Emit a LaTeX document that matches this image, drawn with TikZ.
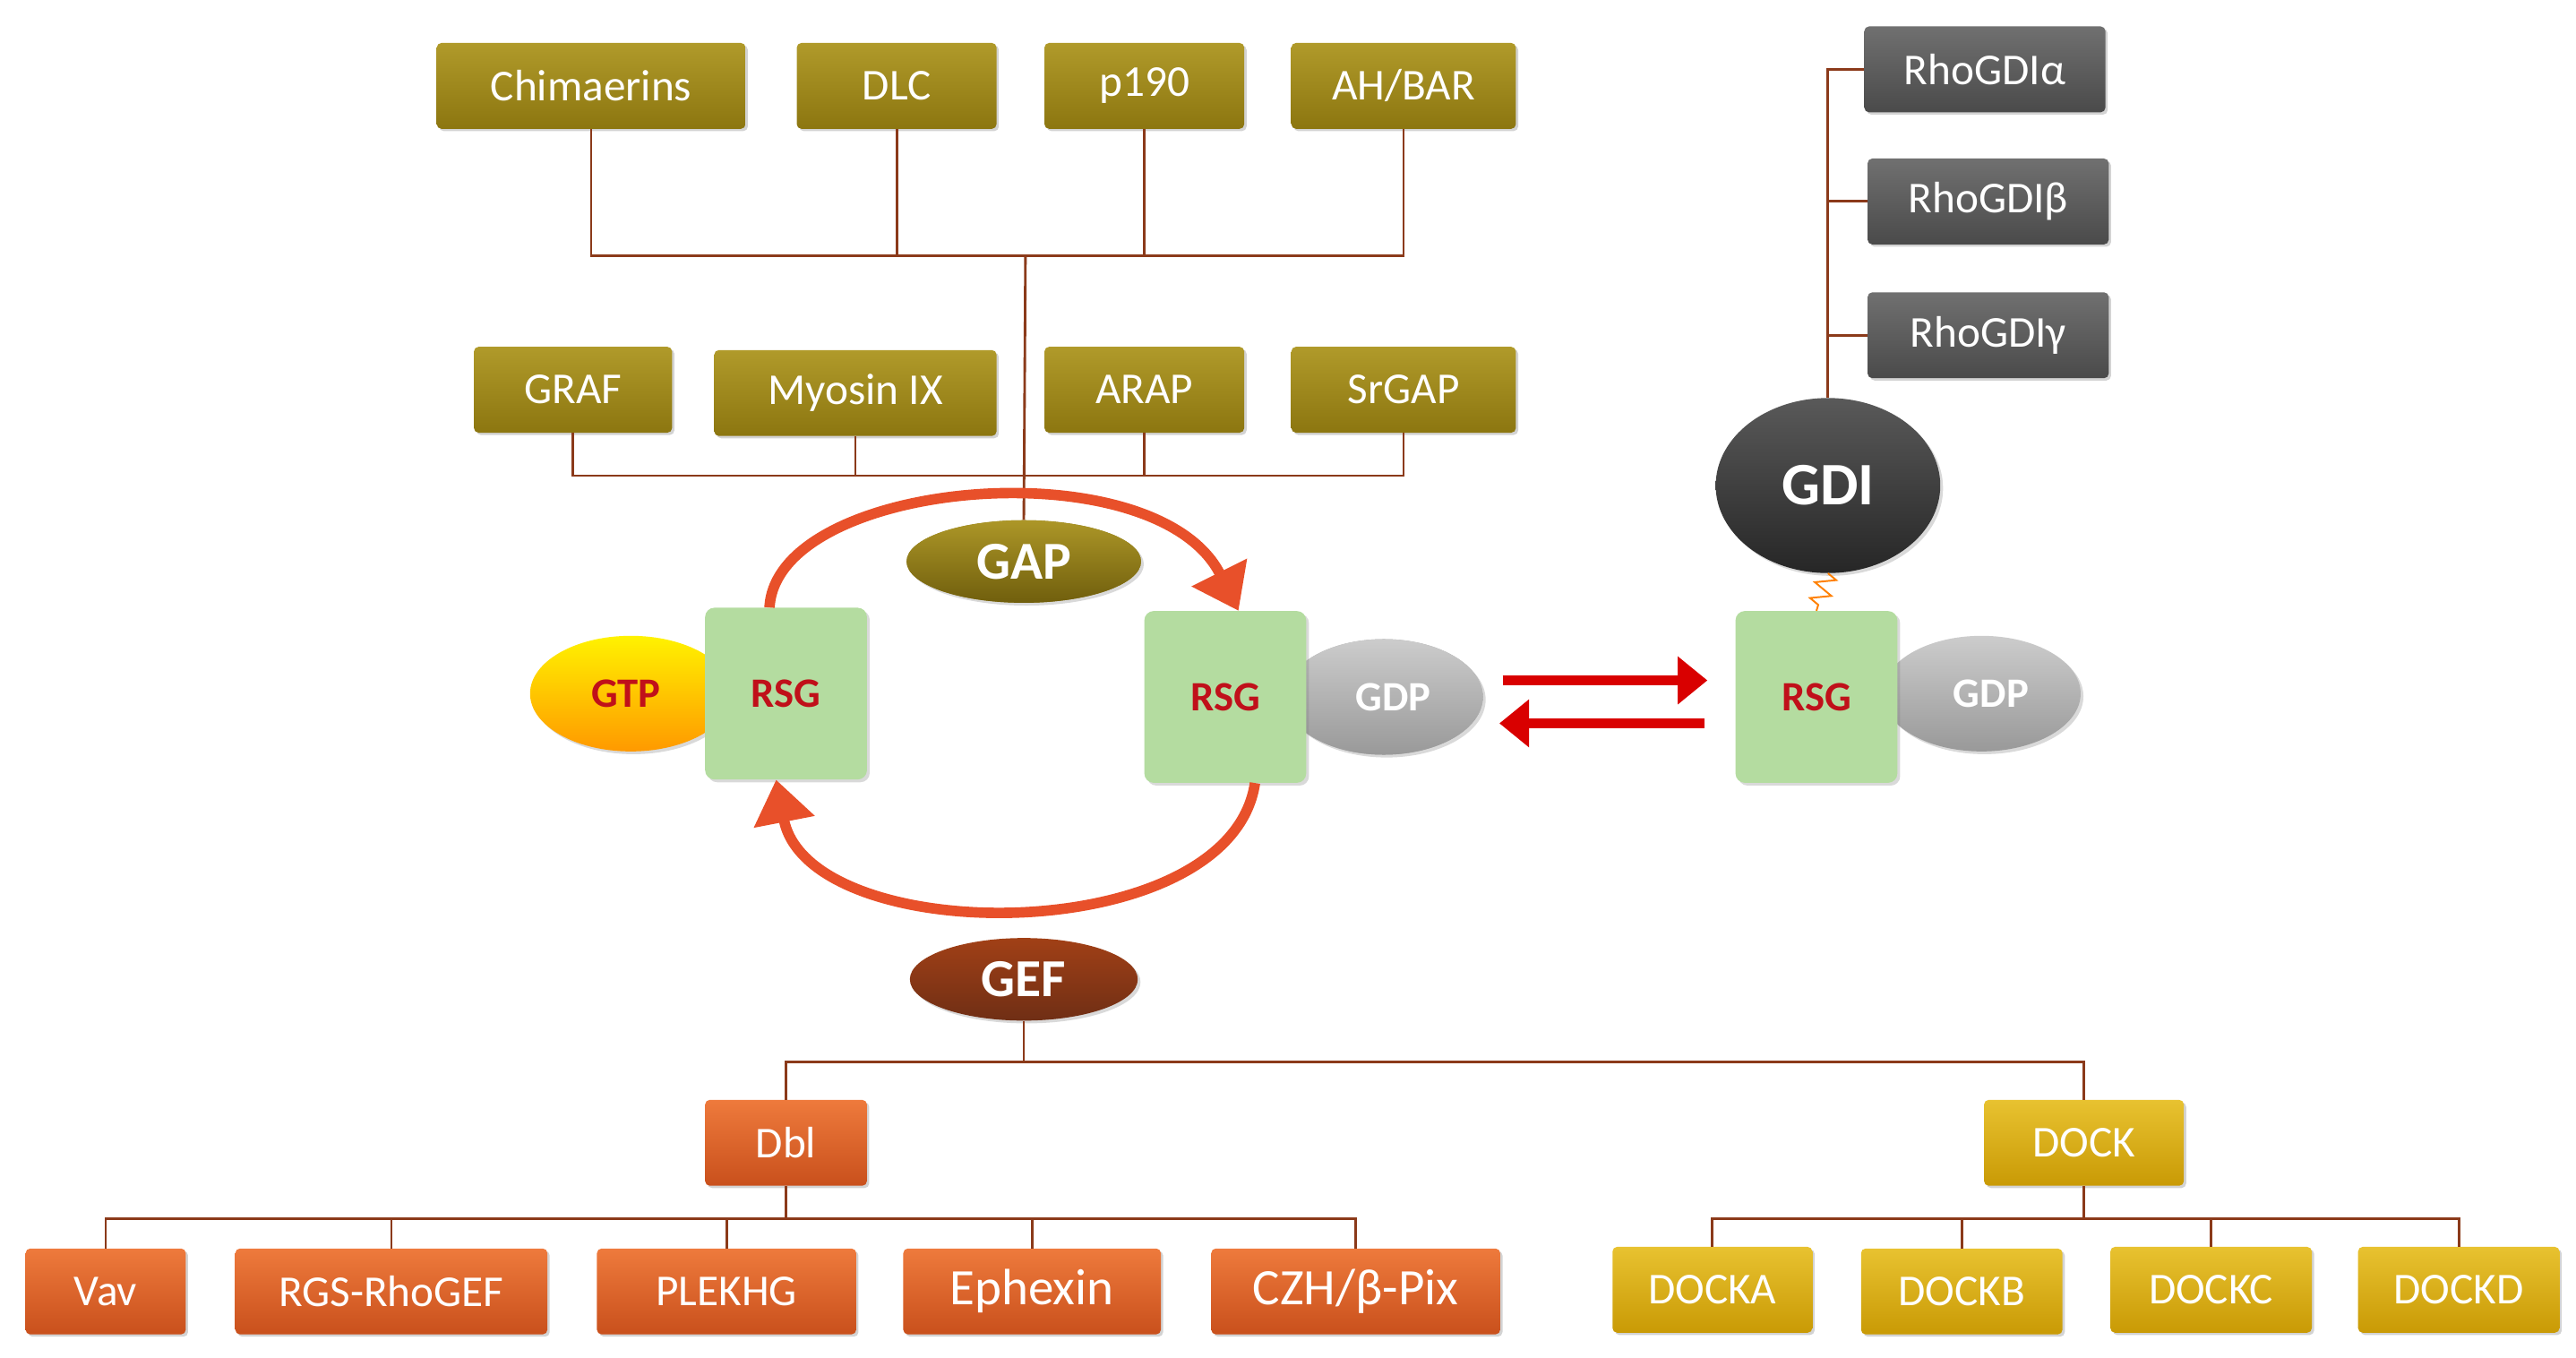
\documentclass[tikz,border=0pt]{standalone}
\usepackage{fontspec}
\setmainfont{Carlito}
\usetikzlibrary{shadows,arrows.meta,decorations.pathmorphing}
\definecolor{olive}{HTML}{8C7610}
\definecolor{oliveL}{HTML}{B09A2A}
\definecolor{ln}{HTML}{8B3A1A}
\definecolor{gr}{HTML}{4A4A4A}
\definecolor{grL}{HTML}{707070}
\definecolor{orD}{HTML}{C9501C}
\definecolor{orL}{HTML}{EE7A3C}
\definecolor{yeD}{HTML}{C99A05}
\definecolor{yeL}{HTML}{E8C230}
\definecolor{grn}{HTML}{B4DCA0}
\definecolor{rsgred}{HTML}{C0101A}
\definecolor{arr}{HTML}{E8502A}
\tikzset{x=0.05cm,y=-0.05cm,
 box/.style={rounded corners=4pt,minimum height=2.6cm,inner sep=0pt,text=white,
  font=\fontsize{38}{44}\selectfont,drop shadow={opacity=0.35,shadow xshift=2pt,shadow yshift=-2pt}},
 ob/.style={box,top color=oliveL,bottom color=olive},
 gb/.style={box,top color=grL,bottom color=gr},
 rb/.style={box,top color=orL,bottom color=orD},
 yb/.style={box,top color=yeL,bottom color=yeD},
 rsg/.style={rounded corners=8pt,fill=grn,minimum width=4.9cm,minimum height=5.2cm,text=rsgred,
  font=\bfseries\fontsize{36}{40}\selectfont,drop shadow={opacity=0.3}},
 el/.style={ellipse,inner sep=0pt,font=\bfseries\fontsize{36}{40}\selectfont,drop shadow={opacity=0.3}},
 wire/.style={ln,line width=2.2pt},
 cyc/.style={arr,line width=9pt,-{Triangle[length=1.3cm,width=1.8cm]}},
 rar/.style={red!85!black,line width=9pt,-{Triangle[length=0.9cm,width=1.4cm]}}
}
\usetikzlibrary{shapes.geometric}
\begin{document}
\begin{tikzpicture}
\useasboundingbox (0,0) rectangle (1560,822);
% top row
\node[ob,minimum width=9.35cm] (chi) at (358,52) {Chimaerins};
\node[ob,minimum width=6.05cm] (dlc) at (543,52) {DLC};
\node[ob,minimum width=6.05cm] (p190) at (693,52) {p190};
\node[ob,minimum width=6.8cm] (ah) at (850,52) {AH/BAR};
\node[ob,minimum width=6cm] (graf) at (347,236) {GRAF};
\node[ob,minimum width=8.55cm] (myo) at (518,238) {Myosin IX};
\node[ob,minimum width=6.05cm] (arap) at (693,236) {ARAP};
\node[ob,minimum width=6.8cm] (srg) at (850,236) {SrGAP};
\coordinate (b1) at (621,155);
\coordinate (b2) at (621,288);
\draw[wire] (chi.south) |- (b1) -| (ah.south);
\draw[wire] (dlc.south) -- (dlc.south|-b1);
\draw[wire] (p190.south) -- (p190.south|-b1);
\draw[wire] (graf.south) |- (b2) -| (srg.south);
\draw[wire] (myo.south) -- (myo.south|-b2);
\draw[wire] (arap.south) -- (arap.south|-b2);
% GAP
\node[el,fill=olive,top color=oliveL!90!olive,bottom color=olive!80!black,minimum width=7.1cm,minimum height=2.5cm,text=white,font=\bfseries\fontsize{46}{50}\selectfont] (gap) at (620,340) {GAP};
\draw[wire] (b1) -- (gap.north);
% RSG
\node[el,fill=gray!70,top color=gray!40,bottom color=gray!80,minimum width=6cm,minimum height=3.5cm,text=white] (gdp1) at (838,422) {\ \ GDP};
\node[rsg] (rsg2) at (742,422) {RSG};
\node[el,top color=yellow!90!orange,bottom color=orange!80!yellow,minimum width=6.1cm,minimum height=3.5cm,text=rsgred] (gtp) at (382,420) {GTP\ \ };
\node[rsg] (rsg1) at (476,420) {RSG};
\node[el,top color=gray!40,bottom color=gray!80,minimum width=6cm,minimum height=3.5cm,text=white] (gdp2) at (1200,420) {\ \ GDP};
\node[rsg] (rsg3) at (1100,422) {RSG};
% cycle arrows
\draw[cyc] ([xshift=-0.5cm]rsg1.north) .. controls (470,290) and (700,270) .. ([xshift=0.4cm]rsg2.north);
\draw[cyc] ([xshift=0.9cm]rsg2.south) .. controls (745,575) and (490,575) .. ([xshift=-0.3cm]rsg1.south);
% exchange arrows
\coordinate (ra1) at (910,412); \coordinate (ra2) at (1034,412);
\coordinate (la1) at (1032,438); \coordinate (la2) at (908,438);
\draw[rar] (ra1) -- (ra2);
\draw[rar] (la1) -- (la2);
% GDI
\node[el,top color=gray!70!black,bottom color=black!85,minimum width=6.8cm,minimum height=5.3cm,text=white,font=\bfseries\fontsize{52}{56}\selectfont] (gdi) at (1107,294) {GDI};
\draw[orange,line width=1.5pt,decorate,decoration={zigzag,amplitude=0.3cm,segment length=0.5cm}] (gdi.south) -- (rsg3.north);
\node[gb,minimum width=7.3cm] (ga) at (1202,42) {RhoGDIα};
\node[gb,minimum width=7.3cm] (gb2) at (1204,122) {RhoGDIβ};
\node[gb,minimum width=7.3cm] (gc) at (1204,203) {RhoGDIγ};
\draw[wire] (ga.west) -| (gdi.north);
\draw[wire] (gb2.west) -- (gb2.west-|gdi.north);
\draw[wire] (gc.west) -- (gc.west-|gdi.north);
% GEF
\node[el,top color=orD!80!black,bottom color=ln!80!black,minimum width=6.9cm,minimum height=2.5cm,text=white,font=\bfseries\fontsize{46}{50}\selectfont] (gef) at (620,593) {GEF};
\node[rb,minimum width=4.9cm] (dbl) at (476,692) {Dbl};
\node[yb,minimum width=6.05cm] (dock) at (1262,692) {DOCK};
\coordinate (g1) at (620,643);
\draw[wire] (gef.south) -- (g1);
\draw[wire] (dbl.north) |- (g1) -| (dock.north);
\node[rb,minimum width=4.85cm] (vav) at (64,782) {Vav};
\node[rb,minimum width=9.45cm] (rgs) at (237,782) {RGS-RhoGEF};
\node[rb,minimum width=7.85cm] (plk) at (440,782) {PLEKHG};
\node[rb,minimum width=7.8cm,font=\fontsize{44}{48}\selectfont] (eph) at (625,782) {Ephexin};
\node[rb,minimum width=8.75cm,font=\fontsize{44}{48}\selectfont] (czh) at (821,782) {CZH/β-Pix};
\coordinate (d1) at (476,738);
\draw[wire] (dbl.south) -- (d1);
\draw[wire] (vav.north) |- (d1) -| (czh.north);
\draw[wire] (rgs.north) -- (rgs.north|-d1);
\draw[wire] (plk.north) -- (plk.north|-d1);
\draw[wire] (eph.north) -- (eph.north|-d1);
\node[yb,minimum width=6.05cm] (da) at (1037,781) {DOCKA};
\node[yb,minimum width=6.1cm] (db) at (1188,782) {DOCKB};
\node[yb,minimum width=6.1cm] (dc) at (1339,781) {DOCKC};
\node[yb,minimum width=6.1cm] (dd) at (1489,781) {DOCKD};
\coordinate (k1) at (1262,738);
\draw[wire] (dock.south) -- (k1);
\draw[wire] (da.north) |- (k1) -| (dd.north);
\draw[wire] (db.north) -- (db.north|-k1);
\draw[wire] (dc.north) -- (dc.north|-k1);
\end{tikzpicture}
\end{document}
